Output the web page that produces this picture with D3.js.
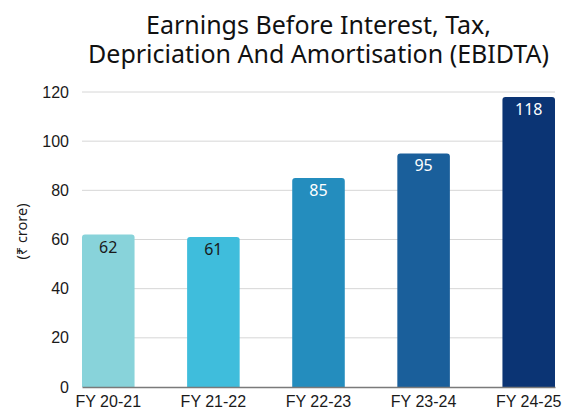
<!DOCTYPE html>
<html>
<head>
<meta charset="utf-8">
<script src="https://cdn.jsdelivr.net/npm/d3@7"></script>
<style>
  body { margin:0; background:#fff; }
  svg { display:block; font-family:"Noto Sans","Open Sans",sans-serif; }
</style>
</head>
<body>
<div id="chart"></div>
<script>
const categories = ["FY 20-21","FY 21-22","FY 22-23","FY 23-24","FY 24-25"];
const values = [62, 61, 85, 95, 118];
const barColors = ["#88d3da","#3fbddc","#248dbe","#1a5f9b","#0b3474"];
const labelColors = ["#1a1a1a","#1a1a1a","#ffffff","#ffffff","#ffffff"];
const yTicks = [0, 20, 40, 60, 80, 100, 120];
const titleLines = ["Earnings Before Interest, Tax,", "Depriciation And Amortisation (EBIDTA)"];
const yLabel = "(₹ crore)";

const W = 562, H = 415;
const MG = {t:92, r:7, b:28, l:82};
const iW = W-MG.l-MG.r, iH = H-MG.t-MG.b;

const svg = d3.select("#chart").append("svg").attr("width",W).attr("height",H);
const g = svg.append("g").attr("transform",`translate(${MG.l},${MG.t})`);

const x = d3.scaleBand().domain(categories).range([0,iW]).paddingInner(0.5).paddingOuter(0);
const y = d3.scaleLinear().domain([0,120]).range([iH,0]);

// title, one text per line
svg.selectAll(".title").data(titleLines).join("text")
  .attr("class","title")
  .attr("x",MG.l+iW/2).attr("y",(d,i)=>34+i*28.5)
  .attr("text-anchor","middle").attr("font-size",25).attr("fill","#111")
  .text(d=>d);

// grid
g.append("g").selectAll("line").data(yTicks.filter(d=>d>0)).join("line")
  .attr("x1",0).attr("x2",iW).attr("y1",d=>y(d)).attr("y2",d=>y(d))
  .attr("stroke","#d6d6d6").attr("stroke-width",1);

// y tick labels
g.append("g").call(d3.axisLeft(y).tickValues(yTicks).tickSize(0).tickPadding(13))
  .call(a=>a.select(".domain").remove())
  .selectAll("text").attr("font-size",16).attr("fill","#1a1a1a").attr("font-family","inherit");

// bars with rounded tops
const r = 3;
g.selectAll(".bar").data(values).join("path")
  .attr("class","bar")
  .attr("fill",(d,i)=>barColors[i])
  .attr("d",(d,i)=>{
    const x0 = x(categories[i]), w = x.bandwidth(), y0 = y(d), yb = y(0);
    return `M${x0},${yb}V${y0+r}Q${x0},${y0} ${x0+r},${y0}H${x0+w-r}Q${x0+w},${y0} ${x0+w},${y0+r}V${yb}Z`;
  });

// value labels
g.selectAll(".val").data(values).join("text")
  .attr("class","val")
  .attr("x",(d,i)=>x(categories[i])+x.bandwidth()/2)
  .attr("y",d=>y(d)+18)
  .attr("text-anchor","middle").attr("font-size",16)
  .attr("fill",(d,i)=>labelColors[i])
  .text(d=>d);

// x axis
g.append("g").attr("transform",`translate(0,${iH})`)
  .call(d3.axisBottom(x).tickSize(0).tickPadding(9))
  .call(a=>a.select(".domain").attr("stroke","#7a7a7a").attr("stroke-width",1.3))
  .selectAll("text").attr("font-size",16).attr("fill","#1a1a1a").attr("font-family","inherit");

// y label
svg.append("text").attr("transform",`translate(27,${MG.t+y(60)-8}) rotate(-90)`)
  .attr("text-anchor","middle").attr("font-size",14.5).attr("fill","#1a1a1a")
  .text(yLabel);
</script>
</body>
</html>
